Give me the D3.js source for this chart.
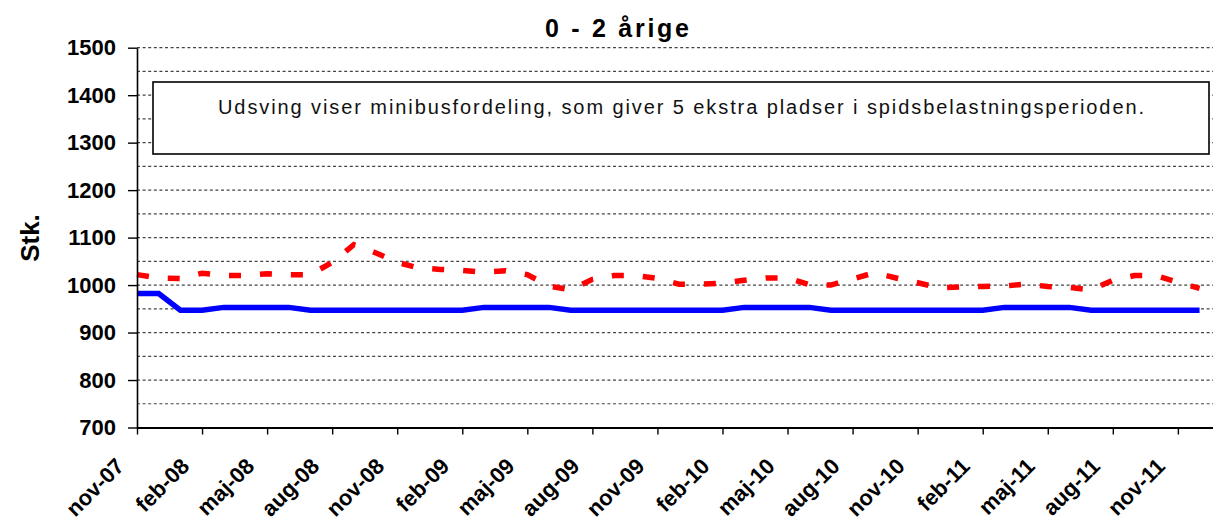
<!DOCTYPE html>
<html lang="da">
<head>
<meta charset="utf-8" />
<script src="https://cdnjs.cloudflare.com/ajax/libs/d3/7.8.5/d3.min.js"></script>
<style>
  body { margin: 0; background: #fff; }
  svg { display: block; font-family: "Liberation Sans", Arial, sans-serif; }
</style>
</head>
<body>
<div class="chart"></div>
<script>
// month index 0 = nov-07, one value per month
var blueLine = [982, 982, 947, 947, 953, 953, 953, 953, 947, 947,
                947, 947, 947, 947, 947, 947, 953, 953, 953, 953,
                947, 947, 947, 947, 947, 947, 947, 947, 953, 953,
                953, 953, 947, 947, 947, 947, 947, 947, 947, 947,
                953, 953, 953, 953, 947, 947, 947, 947, 947, 947];
var redLine = [1022, 1015, 1014, 1025, 1020, 1020, 1024, 1022, 1022, 1048,
               1085, 1068, 1048, 1036, 1033, 1031, 1027, 1030, 1022, 998,
               990, 1012, 1020, 1020, 1014, 1002, 1002, 1004, 1010, 1015,
               1015, 1001, 1000, 1013, 1026, 1015, 1005, 994, 996, 997,
               998, 1002, 997, 995, 990, 1010, 1020, 1020, 1006, 993];
var tickLabels = ["nov-07", "feb-08", "maj-08", "aug-08", "nov-08", "feb-09", "maj-09", "aug-09",
                  "nov-09", "feb-10", "maj-10", "aug-10", "nov-10", "feb-11", "maj-11", "aug-11", "nov-11"];
var yTicks = [700, 800, 900, 1000, 1100, 1200, 1300, 1400, 1500];
var gridValues = [750, 800, 850, 900, 950, 1000, 1050, 1100, 1150, 1200, 1250, 1300, 1350, 1400, 1450, 1500];
var title = "0 - 2 årige";
var note = "Udsving viser minibusfordeling, som giver 5 ekstra pladser i spidsbelastningsperioden.";

var width = 1213, height = 520;
var plotLeft = 137, plotRight = 1213, plotTop = 47.7, plotBottom = 427.5;

var svg = d3.select("div.chart").append("svg")
  .attr("width", width)
  .attr("height", height);

var x = d3.scaleLinear().domain([0, 49.62]).range([plotLeft, plotRight]);
var y = d3.scaleLinear().domain([700, 1500]).range([plotBottom, plotTop]);

// dashed gridlines every 50
svg.append("g").selectAll("line")
  .data(gridValues)
  .enter().append("line")
  .attr("x1", plotLeft).attr("x2", plotRight)
  .attr("y1", d => y(d)).attr("y2", d => y(d))
  .attr("stroke", "#444")
  .attr("stroke-width", 1.2)
  .attr("stroke-dasharray", "3,2.6");

// note box
svg.append("rect")
  .attr("x", 153).attr("y", 82)
  .attr("width", 1056).attr("height", 72)
  .attr("fill", "#fff")
  .attr("stroke", "#000")
  .attr("stroke-width", 1.6);
svg.append("text")
  .attr("x", 681).attr("y", 114)
  .attr("text-anchor", "middle")
  .attr("font-size", 20)
  .attr("textLength", 926)
  .attr("lengthAdjust", "spacing")
  .attr("fill", "#111")
  .text(note);

var line = d3.line()
  .x((d, i) => x(i))
  .y(d => y(d));

svg.append("path")
  .datum(blueLine)
  .attr("d", line)
  .attr("fill", "none")
  .attr("stroke", "#0000ff")
  .attr("stroke-width", 5.5)
  .attr("stroke-linejoin", "miter");

svg.append("path")
  .datum(redLine)
  .attr("d", line)
  .attr("fill", "none")
  .attr("stroke", "#ff0000")
  .attr("stroke-width", 5.5)
  .attr("stroke-dasharray", "12,19");

// axes
var yAxis = svg.append("g")
  .attr("transform", "translate(" + plotLeft + ",0)")
  .call(d3.axisLeft(y).tickValues(yTicks).tickSize(9).tickSizeOuter(0).tickPadding(12).tickFormat(d3.format("d")));
yAxis.select(".domain").attr("stroke-width", 1.6);
yAxis.selectAll(".tick line").attr("stroke-width", 1.4);
yAxis.selectAll("text")
  .attr("font-size", 22)
  .attr("font-weight", "bold")
  .attr("fill", "#000");

var xAxis = svg.append("g")
  .attr("transform", "translate(0," + plotBottom + ")")
  .call(d3.axisBottom(x)
    .tickValues(d3.range(0, tickLabels.length * 3, 3))
    .tickFormat((d, i) => tickLabels[i])
    .tickSize(7).tickSizeOuter(0));
xAxis.select(".domain").attr("stroke-width", 2.2);
xAxis.selectAll(".tick line").attr("stroke-width", 1.4);
xAxis.selectAll("text")
  .attr("x", 0).attr("y", 0).attr("dy", 0)
  .attr("text-anchor", "end")
  .attr("transform", "translate(-12,40) rotate(-45)")
  .attr("font-size", 22)
  .attr("font-weight", "bold")
  .attr("fill", "#000");

svg.append("text")
  .attr("transform", "translate(39,238) rotate(-90)")
  .attr("text-anchor", "middle")
  .attr("font-size", 26)
  .attr("font-weight", "bold")
  .text("Stk.");

svg.append("text")
  .attr("x", 617).attr("y", 37)
  .attr("text-anchor", "middle")
  .attr("font-size", 25)
  .attr("font-weight", "bold")
  .attr("textLength", 144)
  .attr("lengthAdjust", "spacing")
  .text(title);
</script>
</body>
</html>
